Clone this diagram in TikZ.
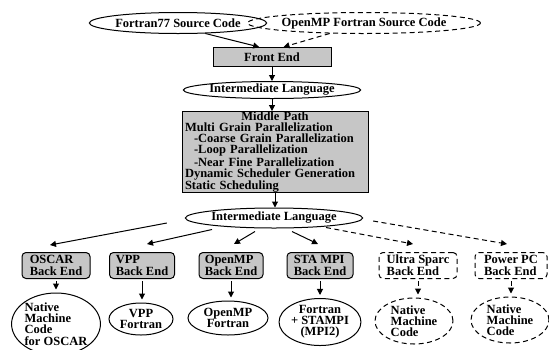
\documentclass[tikz,border=0pt]{standalone}
\usepackage{fontspec}
\setmainfont{Liberation Serif}
\usetikzlibrary{shapes.geometric, arrows.meta, positioning}

\begin{document}
\begin{tikzpicture}[x=1pt, y=-1pt,
  lbl/.style={font=\bfseries\fontsize{12.5}{11.2}\selectfont, inner sep=0pt},
  dashln/.style={dash pattern=on 5pt off 3.5pt},
  oval/.style={lbl, draw, ellipse, line width=1pt},
  dashoval/.style={oval, dashln},
  stage/.style={lbl, draw, fill=gray!45, line width=1pt},
  backend/.style={stage, rounded corners=4pt, minimum height=26pt, align=left},
  dashbackend/.style={backend, fill=none, dashln},
  arr/.style={-{Triangle[length=6pt,width=6pt]}, line width=1pt}]
  \useasboundingbox (0,0) rectangle (549,349);
  % sources and front end
  \node[oval, minimum width=160pt, minimum height=21pt] (f77) at (178,23) {Fortran77 Source Code};
  \node[dashoval, minimum width=188pt, minimum height=21pt] (ompsrc) at (364,23) {OpenMP Fortran Source Code};
  \node[stage, minimum width=118pt, minimum height=19pt] (front) at (272,57) {Front End};
  \node[oval, minimum width=152pt, minimum height=17pt] (il1) at (272,90) {Intermediate Language};
  % middle path
  \node[stage, minimum width=186pt, minimum height=80pt, text width=180pt, align=left] (middle) at (275,152)
    {\makebox[180pt]{Middle Path}\\
     Multi Grain Parallelization\\
     \hspace*{9pt}-Coarse Grain Parallelization\\
     \hspace*{9pt}-Loop Parallelization\\
     \hspace*{9pt}-Near Fine Parallelization\\
     Dynamic Scheduler Generation\\
     Static Scheduling};
  \node[oval, minimum width=154pt, minimum height=20pt] (il2) at (274,218) {Intermediate Language};
  % back ends
  \node[backend, minimum width=68pt] (oscar) at (56,265.5) {OSCAR\\Back End};
  \node[backend, minimum width=65pt] (vpp) at (142,265.5) {VPP\\Back End};
  \node[backend, minimum width=64pt] (omp) at (231,265.5) {OpenMP\\Back End};
  \node[backend, minimum width=66pt] (sta) at (320,265.5) {STA MPI\\Back End};
  \node[dashbackend, minimum width=78pt] (ultra) at (418,265.5) {Ultra Sparc\\Back End};
  \node[dashbackend, minimum width=72pt] (power) at (511,265.5) {Power PC\\Back End};
  % outputs
  \node[oval, align=left, minimum width=88pt, minimum height=62pt] (natosc) at (56,324) {Native\\Machine\\Code\\for OSCAR};
  \node[oval, align=center, minimum width=64pt, minimum height=32pt] (vppf) at (141,319) {VPP\\Fortran};
  \node[oval, align=center, minimum width=80pt, minimum height=34pt] (ompf) at (228,318) {OpenMP\\Fortran};
  \node[oval, align=center, minimum width=72pt, minimum height=46pt] (staf) at (320,322) {Fortran\\+ STAMPI\\(MPI2)};
  \node[dashoval, align=left, minimum width=78pt, minimum height=46pt] (natus) at (414,321) {Native\\Machine\\Code};
  \node[dashoval, align=left, minimum width=78pt, minimum height=46pt] (natpp) at (510,320) {Native\\Machine\\Code};

  \draw[arr] (f77.-21) -- (front.142);
  \draw[arr, dashln] (ompsrc.197) -- (front.41);
  \draw[arr] (front) -- (il1);
  \draw[arr] (il1.south) -- (il1.south |- middle.north);
  \draw[arr] (middle.south) -- (middle.south |- il2.north);
  % fan out to the back ends
  \draw[arr] ([shift={(-18,5)}]il2.west) -- ([shift={(-6,-7)}]oscar.north);
  \draw[arr] ([shift={(-62,1)}]il2.south) -- ([shift={(5,-8)}]vpp.north);
  \draw[arr] ([shift={(-19,3)}]il2.south) -- ([shift={(3,-8)}]omp.north);
  \draw[arr] ([shift={(18,3)}]il2.south) -- ([shift={(-2,-8)}]sta.north);
  \draw[arr, dashln] ([shift={(52,-1)}]il2.south) -- ([shift={(-5,-8)}]ultra.north);
  \draw[arr, dashln] ([shift={(10,3)}]il2.east) -- ([shift={(-4,-8)}]power.north);
  \foreach \b/\o in {oscar/natosc, vpp/vppf, omp/ompf, sta/staf}
    \draw[arr, shorten <=2pt, shorten >=3pt] (\b.south) -- (\b.south |- \o.north);
  \foreach \b/\o in {ultra/natus, power/natpp}
    \draw[arr, dashln, shorten <=2pt, shorten >=3pt] (\b.south) -- (\b.south |- \o.north);
\end{tikzpicture}
\end{document}
